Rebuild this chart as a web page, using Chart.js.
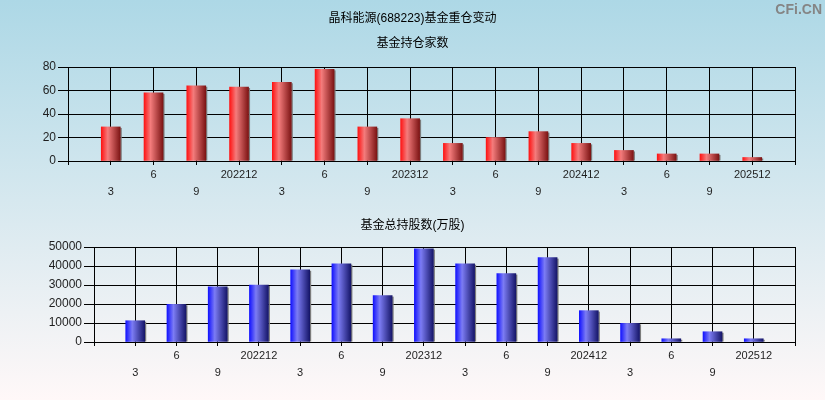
<!DOCTYPE html>
<html>
<head>
<meta charset="utf-8">
<script src="https://cdn.jsdelivr.net/npm/chart.js@4/dist/chart.umd.min.js"></script>
<style>
body {
    margin: 0;
    width: 825px;
    height: 400px;
    overflow: hidden;
    position: relative;
    background: linear-gradient(#add8e6, #fff8f8);
    font-family: "Liberation Sans", "Noto Sans CJK SC", sans-serif;
}
.title {
    position: absolute;
    left: 0;
    width: 825px;
    text-align: center;
    font-size: 12px;
    line-height: 14px;
    color: #000;
    z-index: 2;
}
#logo {
    position: absolute;
    right: 3px;
    top: 1px;
    font: bold 14px "Liberation Sans", sans-serif;
    color: #858585;
    z-index: 2;
}
canvas { position: absolute; left: 0; }
</style>
</head>
<body>
<div class="title" style="top:11px">晶科能源(688223)基金重仓变动</div>
<div class="title" style="top:36px">基金持仓家数</div>
<div class="title" style="top:218px">基金总持股数(万股)</div>
<div id="logo">CFi.CN</div>
<canvas id="top" width="825" height="200" style="top:0"></canvas>
<canvas id="bottom" width="825" height="200" style="top:200px"></canvas>
<script>
// quarters (report periods)
var quarters = ['3', '6', '9', '202212', '3', '6', '9', '202312', '3', '6', '9', '202412', '3', '6', '9', '202512'];
// number of funds holding
var fundCount = [29, 58, 64, 63, 67, 78, 29, 36, 15, 20, 25, 15, 9, 6, 6, 3];
// total shares held by funds (10k shares)
var fundShares = [11200, 19800, 29100, 30000, 38000, 41200, 24400, 49100, 41200, 36000, 44400, 16500, 9800, 1700, 5400, 1700];
// y axis ticks
var countTicks = [0, 20, 40, 60, 80];
var sharesTicks = [0, 10000, 20000, 30000, 40000, 50000];

// one empty slot before and after the quarters
var labels = [''].concat(quarters, ['']);
function pad(arr) { return [null].concat(arr, [null]); }

function barFill(stops) {
    return function (c) {
        var chart = c.chart, xs = chart.scales.x;
        if (!chart.chartArea || !xs) return stops[0];
        var cx = xs.getPixelForValue(c.dataIndex);
        var g = chart.ctx.createLinearGradient(cx - 10, 0, cx + 10, 0);
        g.addColorStop(0, stops[0]);
        g.addColorStop(0.35, stops[1]);
        g.addColorStop(1, stops[2]);
        return g;
    };
}

var barShadow = {
    id: 'barShadow',
    beforeDatasetDraw: function (chart, args) {
        var ctx = chart.ctx;
        var data = chart.data.datasets[args.index].data;
        ctx.save();
        ctx.fillStyle = '#7c7c7c';
        args.meta.data.forEach(function (bar, i) {
            if (data[i] === null) return;
            var p = bar.getProps(['x', 'y', 'base', 'width']);
            ctx.fillRect(p.x + p.width / 2, p.y + 1, 1.5, p.base - p.y - 1);
        });
        ctx.restore();
    }
};

function makeChart(id, values, yTicks, colors, axisW, padTop, xH) {
    return new Chart(document.getElementById(id), {
        type: 'bar',
        data: {
            labels: labels,
            datasets: [{
                data: pad(values),
                backgroundColor: barFill(colors),
                barThickness: 19,
                borderWidth: 0
            }]
        },
        plugins: [barShadow],
        options: {
            responsive: false,
            animation: false,
            layout: { padding: { top: padTop, right: 30, left: 0, bottom: 0 } },
            plugins: { legend: { display: false }, tooltip: { enabled: false } },
            scales: {
                x: {
                    offset: false,
                    afterFit: function (s) { s.height = xH; },
                    grid: { offset: false, color: '#000', lineWidth: 1, tickLength: 4 },
                    border: { color: '#000' },
                    ticks: {
                        autoSkip: false,
                        maxRotation: 0,
                        padding: 2,
                        color: '#1e1e1e',
                        font: { family: '"Liberation Sans", sans-serif', size: 11, lineHeight: '16.5px' },
                        callback: function (v, i) {
                            var l = labels[i];
                            return i % 2 === 1 ? ['', l] : l;
                        }
                    }
                },
                y: {
                    min: yTicks[0],
                    max: yTicks[yTicks.length - 1],
                    afterFit: function (s) { s.width = axisW; },
                    afterBuildTicks: function (s) { s.ticks = yTicks.map(function (v) { return { value: v }; }); },
                    grid: { color: '#000', lineWidth: 1, tickLength: 10 },
                    border: { color: '#000' },
                    ticks: {
                        padding: 2,
                        color: '#1e1e1e',
                        font: { family: '"Liberation Sans", sans-serif', size: 12 },
                        callback: function (v) { return String(v); }
                    }
                }
            }
        }
    });
}

var topChart = makeChart('top', fundCount, countTicks, ['#ff0c0c', '#f47c7c', '#781010'], 68, 67, 39);
var bottomChart = makeChart('bottom', fundShares, sharesTicks, ['#0c0cff', '#7c7cf4', '#121264'], 94, 47, 58);
</script>
</body>
</html>
